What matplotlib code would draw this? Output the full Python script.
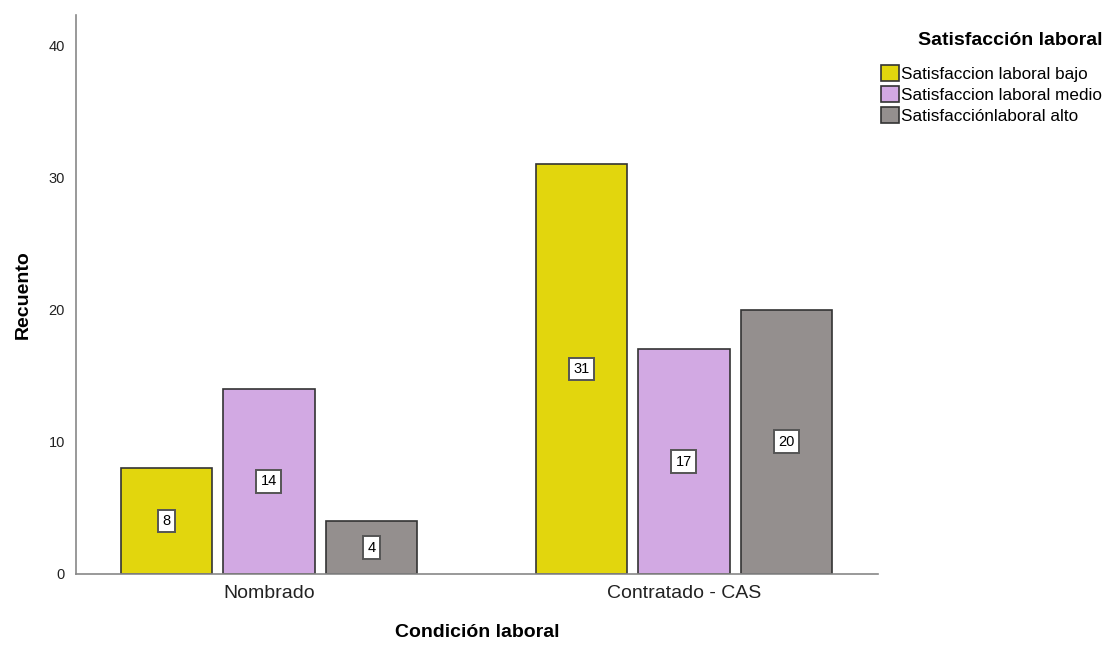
import numpy as np
import matplotlib.pyplot as plt

plt.rcParams['font.family'] = ['Liberation Sans', 'DejaVu Sans']

categorias = ['Nombrado', 'Contratado - CAS']
series = ['Satisfaccion laboral bajo', 'Satisfaccion laboral medio', 'Satisfacciónlaboral alto']
bajo = [8, 31]
medio = [14, 17]
alto = [4, 20]
valores = [bajo, medio, alto]
colores = ['#e2d60d', '#d2a9e3', '#948f8e']

fig = plt.figure(figsize=(11.18, 6.5), dpi=100)
ax = fig.add_axes([0.068, 0.117, 0.717, 0.86])

x = np.arange(len(categorias))
w = 0.22
paso = 0.247
for i, (nombre, vals, c) in enumerate(zip(series, valores, colores)):
    pos = x + (i - 1) * paso
    ax.bar(pos, vals, width=w, color=c, edgecolor='#333333', linewidth=1.2, label=nombre, zorder=2)
    for p, v in zip(pos, vals):
        ax.text(p, v / 2, str(v), ha='center', va='center', fontsize=10.5, zorder=3,
                bbox=dict(boxstyle='square,pad=0.3', fc='white', ec='#555555', lw=1.4))

ax.set_xlim(-0.465, 1.467)
ax.set_ylim(0, 42.3)
ax.set_yticks([0, 10, 20, 30, 40])
ax.set_xticks(x)
ax.set_xticklabels(categorias, fontsize=14, color='#222222')
ax.tick_params(axis='both', length=0)
ax.tick_params(axis='y', labelsize=10.5, pad=8, labelcolor='#222222')
ax.tick_params(axis='x', pad=8)
for s in ['top', 'right']:
    ax.spines[s].set_visible(False)
for s in ['left', 'bottom']:
    ax.spines[s].set_color('#888888')
    ax.spines[s].set_linewidth(1.2)

ax.set_ylabel('Recuento', fontsize=14, fontweight='bold', labelpad=12)
ax.set_xlabel('Condición laboral', fontsize=14, fontweight='bold', labelpad=16)

leg = fig.legend(loc='upper left', bbox_to_anchor=(0.774, 0.975), frameon=False,
                 title='Satisfacción laboral', fontsize=12.3, handlelength=1.05,
                 handleheight=1.05, handletextpad=0.15, labelspacing=0.25,
                 title_fontproperties={'weight': 'bold', 'size': 14})
leg._legend_box.align = 'right'
leg._legend_box.sep = 12

fig.savefig('out.png', dpi=100)
